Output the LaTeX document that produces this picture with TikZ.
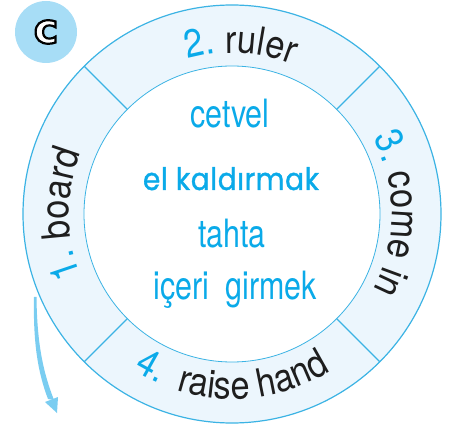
\documentclass[tikz,border=0pt]{standalone}
\usepackage{fontspec}
\usetikzlibrary{decorations.text,calc}
\newfontfamily\ringfont{TeX Gyre Heros}[FakeStretch=0.88]
\newfontfamily\midfont{TeX Gyre Heros}[FakeStretch=0.78]
\newfontfamily\poppfont{Poppins}[FakeBold=1.2, FakeStretch=0.9, LetterSpace=2]
\newfontfamily\badgefont{DejaVu Sans}
\definecolor{ringfill}{HTML}{ECF6FD}
\definecolor{ringline}{HTML}{3BB3E4}
\definecolor{ccyan}{HTML}{0AAAE9}
\definecolor{badgefill}{HTML}{A7DDF6}
\definecolor{arrowc}{HTML}{7ACDF1}
\definecolor{ringdark}{HTML}{1E1E1E}
\newcommand{\rA}{\ringfont\fontsize{39}{42}\selectfont\color{ccyan}}
\newcommand{\rB}{\ringfont\fontsize{39}{42}\selectfont\color{ringdark}}
\newcommand{\outlined}[1]{\special{pdf:literal direct 0 0 0 RG 2.2 w 2 Tr}#1\special{pdf:literal direct 0 Tr}}
\tikzset{
  ringtext/.style={decorate, decoration={text along path, text align=center, text={#1}}},
  midtext/.style={anchor=base, inner sep=0pt, text=ccyan, font=\midfont\fontsize{39}{42}\selectfont},
  boldmid/.style={anchor=base, inner sep=0pt, text=ccyan, font=\poppfont\fontsize{31}{34}\selectfont},
  badgec/.style={inner sep=0pt, font=\badgefont\bfseries\fontsize{41}{44}\selectfont}
}
\begin{document}
\begin{tikzpicture}[x=1pt,y=1pt]
\useasboundingbox (0,0) rectangle (449,428);
\coordinate (c) at (232,214);
% ring
\fill[ringfill] (c) circle[radius=209];
\fill[white] (c) circle[radius=148];
\draw[ringline, line width=1.2pt] (c) circle[radius=209];
\draw[ringline, line width=0.8pt] (c) circle[radius=148];
\foreach \a in {45,135,225,315}
  \draw[ringline, line width=1.1pt] ($(c)+(\a:148)$) -- ($(c)+(\a:209)$);
% ring texts
\path[ringtext={|\rA|2.~|\rB|ruler}] ($(c)+(177:161)$) arc[start angle=177, end angle=-3, radius=161];
\path[ringtext={|\rA|3.~|\rB|come in}] (232,374) arc[start angle=90, end angle=-90, radius=160];
\path[ringtext={|\rA|1.~|\rB|board}] (232,51) arc[start angle=270, end angle=90, radius=163];
\path[ringtext={|\rA|4.~~|\rB|raise hand}] (47,214) arc[start angle=180, end angle=360, radius=185];
% centre texts
\node[midtext] (t1) at (230,300) {cetvel};
\node[boldmid] (t2) at (231,238) {el kaldırmak};
\node[midtext] (t3) at (232,180) {tahta};
\node[midtext] (t4) at (235,128) {içeri\hspace{8pt} girmek};
% badge
\fill[badgefill] (46,396) circle[radius=31];
\node[badgec, text=white] (badge) at (46,396) {\outlined{c}};
% arrow
\fill[arrowc] (34,131) .. controls (33,85) and (38,55) .. (48,29)
   -- (54,28) .. controls (43,56) and (37,85) .. (36.5,131) -- cycle;
\fill[arrowc] (57,15) -- (45,26) -- (58,31) -- cycle;
\end{tikzpicture}
\end{document}
